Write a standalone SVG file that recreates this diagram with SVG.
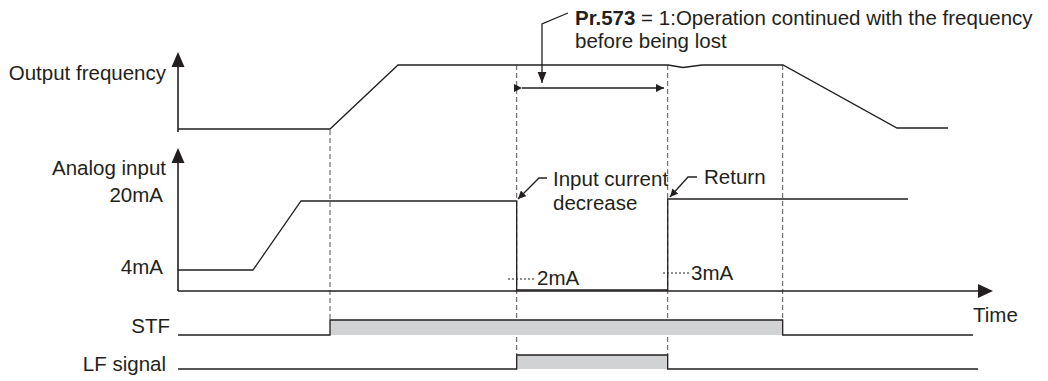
<svg xmlns="http://www.w3.org/2000/svg" width="1048" height="381" viewBox="0 0 1048 381">
<defs>
<style>
text{font-family:"Liberation Sans",Arial,sans-serif;font-size:20.5px;fill:#231f20}
.ln{fill:none;stroke:#231f20;stroke-width:1.3}
.ax{fill:none;stroke:#231f20;stroke-width:1.6}
.dash{fill:none;stroke:#555;stroke-width:1;stroke-dasharray:5 3}
.dot{fill:none;stroke:#231f20;stroke-width:1;stroke-dasharray:2 2}
.fill{fill:#d1d2d4;stroke:none}
.head{fill:#231f20}
</style>
<marker id="ah" viewBox="0 0 10 10" refX="10" refY="5" markerWidth="8" markerHeight="8" markerUnits="userSpaceOnUse" orient="auto">
<path d="M0,0 L10,5 L0,10 z" fill="#231f20"/>
</marker>
<marker id="ahb" viewBox="0 0 10 10" refX="10" refY="5" markerWidth="11" markerHeight="11" markerUnits="userSpaceOnUse" orient="auto">
<path d="M0,1 L10,5 L0,9 z" fill="#231f20"/>
</marker>
</defs>
<rect width="1048" height="381" fill="#fff"/>

<g id="guides">
<line class="dash" x1="330" y1="130" x2="330" y2="320"/>
<line class="dash" x1="516.7" y1="65" x2="516.7" y2="356"/>
<line class="dash" x1="667.7" y1="65" x2="667.7" y2="356"/>
<line class="dash" x1="782.7" y1="65" x2="782.7" y2="321"/>
</g>

<g id="output-frequency">
<text x="166" y="80" text-anchor="end">Output frequency</text>
<line class="ax" x1="178" y1="64" x2="178" y2="132"/>
<path class="head" d="M178,52 L171.5,67 L184.5,67 z"/>
<polyline class="ln" points="178,129 330,129 398,65 668,65 683,67.5 702,65 783,65 897,128 948,128"/>
</g>

<g id="analog-input">
<text x="166" y="175" text-anchor="end">Analog input</text>
<text x="163" y="202" text-anchor="end">20mA</text>
<text x="163" y="274" text-anchor="end">4mA</text>
<line class="ax" x1="178" y1="160" x2="178" y2="291"/>
<path class="head" d="M178,148 L171.5,163 L184.5,163 z"/>
<line class="ax" x1="178" y1="291" x2="980" y2="291"/>
<path class="head" d="M993,291 L978,284 L978,298 z"/>
<text x="973" y="322">Time</text>
<polyline class="ln" points="178,270 253,270 301,201 516.7,201 516.7,290 667.7,290 667.7,199 908,199"/>
<line class="dot" x1="508" y1="279" x2="535" y2="279"/>
<text x="537" y="285">2mA</text>
<line class="dot" x1="663" y1="273" x2="690" y2="273"/>
<text x="691" y="280">3mA</text>
</g>

<g id="stf">
<text x="170" y="333" text-anchor="end">STF</text>
<rect class="fill" x="330" y="320" width="452.7" height="15"/>
<polyline class="ln" points="178,335 330,335 330,320 782.7,320 782.7,335 973,335"/>
</g>

<g id="lf-signal">
<text x="166" y="371" text-anchor="end">LF signal</text>
<rect class="fill" x="516.7" y="355" width="151" height="14"/>
<polyline class="ln" points="178,369 516.7,369 516.7,355 667.7,355 667.7,369 978,369"/>
</g>

<g id="annotation-pr573">
<text x="575" y="25"><tspan font-weight="bold">Pr.573</tspan> = 1:Operation continued with the frequency</text>
<text x="575" y="48">before being lost</text>
</g>

<g id="annotation-input-decrease">
<text x="553" y="186">Input current</text>
<text x="553" y="210">decrease</text>
</g>

<g id="annotation-return">
<text x="704" y="184">Return</text>
</g>

<g id="connectors">
<polyline class="ln" points="568,13 542,24 542,83" stroke-width="2.4" marker-end="url(#ahb)"/>
<line class="ln" x1="522" y1="88" x2="664" y2="88" marker-start="url(#ah)" marker-end="url(#ah)"/>
<polyline class="ln" points="547,178 539,178 518,199" marker-end="url(#ah)"/>
<polyline class="ln" points="697,177 688,177 670,197" marker-end="url(#ah)"/>
</g>
</svg>
